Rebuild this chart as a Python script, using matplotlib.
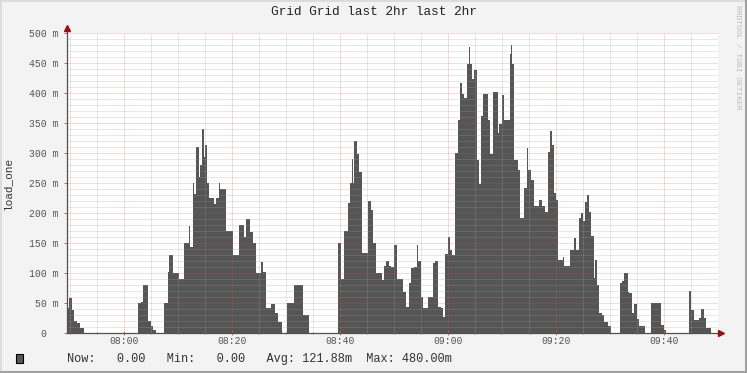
import numpy as np
import matplotlib.pyplot as plt
from matplotlib.ticker import MultipleLocator, FixedLocator, FuncFormatter
from matplotlib.lines import Line2D
from matplotlib.patches import Rectangle

# step edges in minutes after 08:00, and the load_one value (in m) between each edge and the next
minutes = [-10.7, -10.24, -9.74, -9.31, -8.70, -8.26, -7.46,
           2.54, 3.15, 3.52, 4.39, 5.00, 5.37, 5.81,
           7.35, 8.09, 8.33, 8.96, 10.19, 11.11, 11.93, 12.17, 12.67, 12.96, 13.28, 13.78,
           14.02, 14.39, 14.70, 15.00, 15.26, 15.74, 16.67, 16.98, 17.48, 17.72, 18.83, 20.07,
           21.19, 22.22, 22.54, 23.28, 23.78, 24.39, 25.31, 25.74, 26.24, 27.17, 27.96, 28.41, 29.20,
           30.07, 31.37, 33.04, 34.15,
           39.52, 40.13, 40.74, 41.37, 41.80, 42.17, 42.36, 42.59, 43.04, 43.52, 44.02, 45.07,
           45.69, 46.11, 46.61, 47.72, 48.15, 48.46, 48.96, 49.39, 50.00, 50.41, 51.56, 52.17,
           52.67, 53.09, 53.70, 54.15, 54.33, 54.94, 55.37, 56.19, 57.11, 57.59, 58.15, 58.65,
           59.07, 59.39, 59.89, 60.31, 60.63, 61.30, 61.74, 62.17, 62.54, 62.96, 63.41, 63.78,
           64.02, 64.39, 64.81, 65.26, 65.74, 66.11, 66.48, 67.30, 67.78, 68.33, 69.15, 69.44,
           69.94, 70.37, 71.43, 71.61, 71.80, 72.22, 72.85, 73.28, 74.07, 74.52, 74.81, 75.31,
           75.93, 76.85, 77.35, 77.96, 78.41, 78.83, 79.15, 79.63, 79.94, 80.26, 81.19, 81.48,
           82.54, 83.33, 83.65, 84.15, 84.57, 85.00, 85.37, 85.69, 86.11, 86.43, 86.93, 87.22,
           87.54, 87.96, 88.46, 88.89, 89.52, 90.13,
           91.85, 92.17, 92.48, 93.22, 93.52, 94.02, 94.44, 94.89, 95.37, 96.48,
           97.54, 99.39, 100.00, 100.31,
           104.52, 104.94, 105.56, 106.37, 106.80, 107.41, 107.72, 108.65, 109.94]
load_one = [41, 59, 38, 20, 16, 9, 0,
            50, 52, 80, 20, 12, 5, 0,
            50, 102, 130, 100, 90, 150, 178, 144, 250, 232, 310, 260,
            280, 340, 294, 313, 250, 225, 215, 225, 250, 240, 170, 130,
            180, 160, 190, 169, 150, 100, 119, 102, 41, 49, 33, 19, 0,
            50, 80, 30, 0,
            150, 90, 170, 216, 250, 290, 250, 320, 299, 269, 133, 220,
            205, 150, 100, 88, 111, 120, 111, 110, 146, 90, 69, 44,
            83, 108, 110, 147, 120, 60, 41, 60, 116, 120, 44, 41,
            27, 131, 160, 138, 130, 300, 355, 416, 399, 391, 449, 477,
            449, 424, 439, 288, 249, 361, 399, 355, 299, 402, 333, 349,
            397, 355, 465, 480, 449, 288, 272, 191, 241, 308, 272, 255,
            211, 222, 211, 202, 302, 336, 313, 233, 222, 122, 127, 111,
            138, 158, 138, 191, 200, 186, 219, 230, 202, 161, 91, 122,
            80, 33, 30, 19, 11, 0,
            83, 86, 100, 69, 66, 33, 49, 24, 11, 0,
            50, 13, 5, 0,
            70, 38, 22, 25, 40, 25, 9, 0]

tick_pos = [0, 20, 40, 60, 80, 100]
tick_labels = ['08:00', '08:20', '08:40', '09:00', '09:20', '09:40']
title = 'Grid Grid last 2hr last 2hr'
legend_line = 'Now:   0.00   Min:   0.00   Avg: 121.88m  Max: 480.00m'

W, H = 747, 373
fig = plt.figure(figsize=(W / 100, H / 100), dpi=100, facecolor='#f3f3f3')
ax = fig.add_axes([66.5 / W, 40 / H, 651.5 / W, 300 / H], facecolor='white')

ax.stairs(load_one, minutes, fill=True, facecolor='#555555', edgecolor='none', linewidth=0, zorder=1)

ax.set_xlim(-10.7, 109.94)
ax.set_ylim(0, 500)

ax.xaxis.set_major_locator(FixedLocator(tick_pos))
ax.set_xticklabels(tick_labels)
ax.xaxis.set_minor_locator(MultipleLocator(5))
ax.yaxis.set_major_locator(MultipleLocator(50))
ax.yaxis.set_minor_locator(MultipleLocator(10))
ax.yaxis.set_major_formatter(FuncFormatter(lambda v, p: '%d m' % v if v > 0 else '0  '))

# rrdtool style dotted grid drawn over the area
ax.grid(True, which='minor', color='#a0a0a0', alpha=0.5, linestyle=(0, (1, 1)), linewidth=0.72, zorder=2)
ax.grid(True, which='major', color='#e05050', alpha=0.42, linestyle=(0, (1, 1)), linewidth=0.72, zorder=3)
ax.set_axisbelow(False)

for s in ax.spines.values():
    s.set_visible(False)

mono = 'Liberation Mono'
ax.tick_params(axis='both', which='both', labelsize=7, labelcolor='#555555')
ax.tick_params(axis='x', which='major', length=3, width=0.7, color='#d06060', direction='inout', pad=1)
ax.tick_params(axis='x', which='minor', length=2, width=0.7, color='#909090', direction='inout')
ax.tick_params(axis='y', which='major', length=2, width=0.7, color='#d06060', pad=4)
ax.tick_params(axis='y', which='minor', length=0)
for lab in ax.get_xticklabels() + ax.get_yticklabels():
    lab.set_family(mono)

# axis lines with small arrows, like rrdtool
ax.plot([0, 0], [0, 1.017], transform=ax.transAxes, color='#505050', lw=0.9, clip_on=False, zorder=5)
ax.plot([0, 1.005], [0, 0], transform=ax.transAxes, color='#505050', lw=0.9, clip_on=False, zorder=5)
ax.plot([0], [1.017], marker='^', ms=4, color='#9a1010', transform=ax.transAxes, clip_on=False, zorder=6)
ax.plot([1.005], [0], marker='>', ms=4, color='#9a1010', transform=ax.transAxes, clip_on=False, zorder=6)

ax.set_ylabel('load_one', family=mono, fontsize=8, color='#333333')
ax.yaxis.set_label_coords(-54 / 651.5, 0.5)

fig.text(373.5 / W, 1 - 12 / H, title, family=mono, fontsize=9.2, color='#222222', ha='center', va='center')
fig.text(738 / W, 1 - 5 / H, 'RRDTOOL / TOBI OETIKER', family=mono, fontsize=5.8, color='#bcbcbc',
         rotation=-90, ha='center', va='top')

fig.add_artist(Rectangle((16 / W, 1 - 363 / H), 7 / W, 9 / H, facecolor='#555555', edgecolor='black',
                         linewidth=0.8, transform=fig.transFigure))
fig.text(66.7 / W, 1 - 359 / H, legend_line, family=mono, fontsize=8.57, color='#333333', ha='left', va='center')

# frame shading
fig.add_artist(Line2D([0, 1], [1 - 0.5 / H, 1 - 0.5 / H], color='#d8d8d8', lw=1.2))
fig.add_artist(Line2D([0.5 / W, 0.5 / W], [0, 1], color='#d8d8d8', lw=1.2))
fig.add_artist(Line2D([1 - 1.5 / W, 1 - 1.5 / W], [0, 1], color='#a0a0a0', lw=2.2))
fig.add_artist(Line2D([0, 1], [1.5 / H, 1.5 / H], color='#a0a0a0', lw=2.2))

fig.savefig('out.png', dpi=100, facecolor=fig.get_facecolor())
